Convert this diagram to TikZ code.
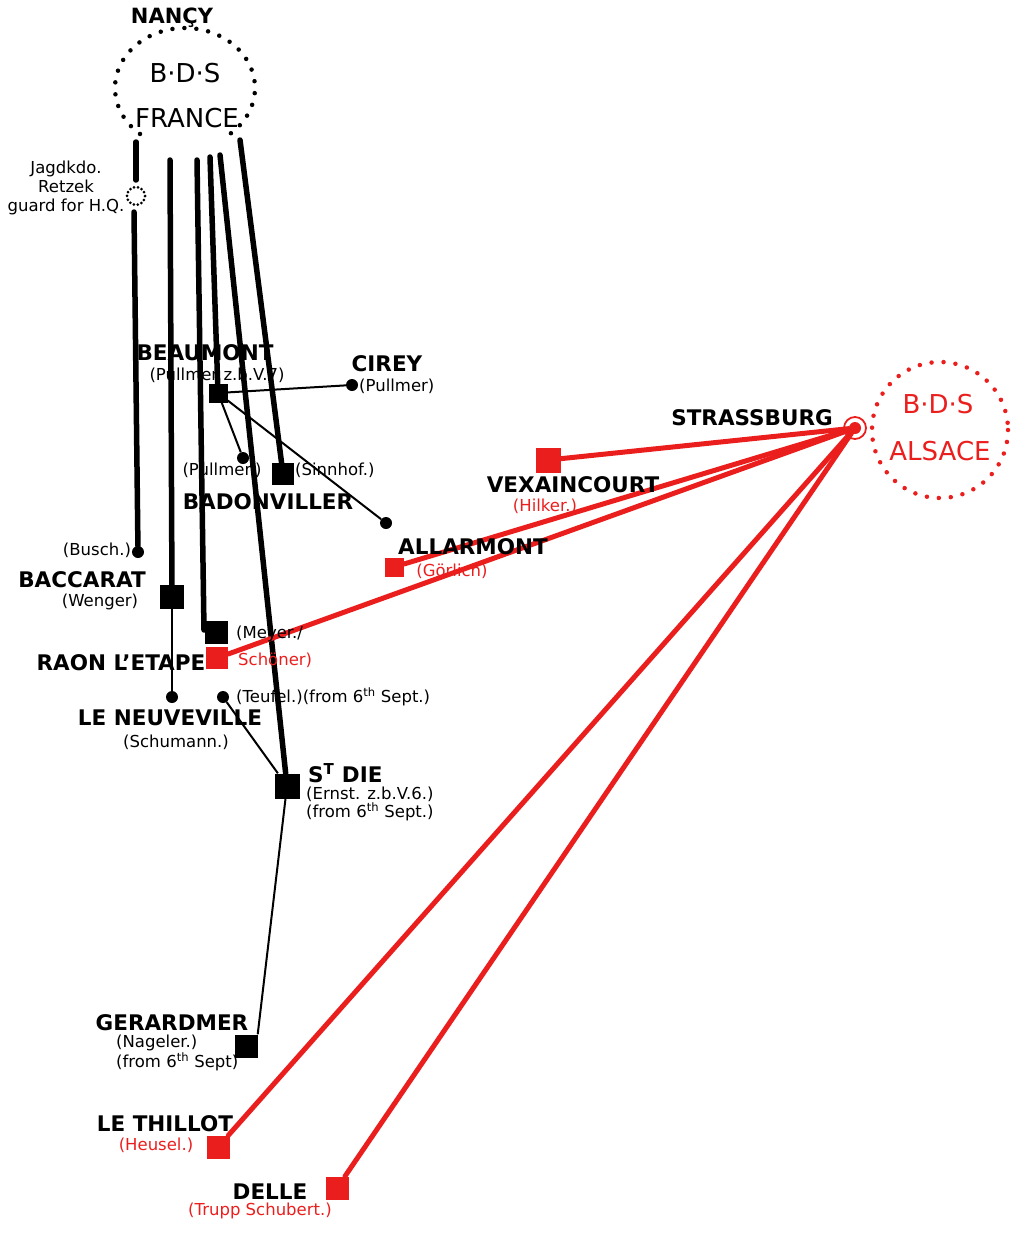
\documentclass[tikz,border=0pt]{standalone}
\usepackage{fontspec}
\setmainfont{DejaVu Sans}
\definecolor{rd}{RGB}{235,30,30}
\tikzset{
  place/.style={font=\fontsize{21.5}{22}\selectfont\bfseries, inner sep=0pt},
  who/.style={font=\fontsize{16.5}{18}\selectfont, inner sep=0pt},
  sqb/.style={fill=black, draw=none, minimum size=#1, inner sep=0pt},
  sqr/.style={fill=rd, draw=none, minimum size=#1, inner sep=0pt},
  dotb/.style={circle, fill=black, minimum size=12pt, inner sep=0pt},
  thick line/.style={line width=5.5pt, line cap=round},
  thin line/.style={line width=2pt},
  red line/.style={draw=rd, line width=5pt, line cap=round},
  dots/.style={line width=4.5pt, line cap=round, dash pattern=on 0pt off 12pt},
  big/.style={font=\fontsize{26}{26}\selectfont, inner sep=0pt},
}
\begin{document}
\begin{tikzpicture}[x=1pt,y=-1pt]
\useasboundingbox (0,0) rectangle (1011,1236);
% BDS France
\draw[dots] (185,88) ++(130:70 and 60) arc[start angle=130, end angle=410, x radius=70, y radius=60];
\node[font=\fontsize{21}{21}\selectfont\bfseries, inner sep=0pt] (nancy) at (172,18) {NANÇY};
\node[big] (bds1) at (185,73) {B·D·S};
\node[big] (france) at (187,118) {FRANCE};
% BDS Alsace
\draw[dots, draw=rd] (940,430) circle[radius=68];
\node[big, text=rd] (bds2) at (938,404) {B·D·S};
\node[big, text=rd] (alsace) at (940,451) {ALSACE};
% start points
\coordinate (f1) at (136,142);
\coordinate (f2) at (170,160);
\coordinate (f3) at (197,160);
\coordinate (f4) at (210,157);
\coordinate (f5) at (220,155);
\coordinate (f6) at (240,140);
% nodes
\node[circle, draw, dash pattern=on 0pt off 4pt, line width=3pt, line cap=round, minimum size=18pt, inner sep=0pt] (ret) at (136,196) {};
\node[dotb] (busch) at (138,552) {};
\node[sqb=24pt] (bacc) at (172,597) {};
\node[dotb] (neuv) at (172,697) {};
\node[sqb=23pt] (raonb) at (216,632) {};
\node[sqr=22pt] (raonr) at (217,658) {};
\node[sqb=19pt] (beau) at (218,393) {};
\node[dotb] (cirey) at (352,385) {};
\node[dotb] (pull) at (243,458) {};
\node[dotb] (dia) at (386,523) {};
\node[sqb=22pt] (badon) at (283,474) {};
\node[dotb] (teuf) at (223,697) {};
\node[sqb=25pt] (stdie) at (287,786) {};
\node[sqb=23pt] (gerard) at (246,1046) {};
\node[sqr=25pt] (vex) at (548,460) {};
\node[sqr=19pt] (allar) at (394,567) {};
\node[sqr=23pt] (thil) at (218,1147) {};
\node[sqr=23pt] (delle) at (337,1188) {};
\node[circle, fill=rd, minimum size=12pt, inner sep=0pt] (stras) at (855,428) {};
\draw[rd, line width=1.8pt] (stras) circle[radius=11];
% black thick lines
\draw[thick line] (f1) -- (136,180);
\draw[thick line] (134,212) -- (busch);
\draw[thick line] (f2) -- (bacc);
\draw[thick line] (f3) -- (204,630);
\draw[thick line] (f4) -- (beau);
\draw[thick line] (f5) -- (stdie);
\draw[thick line] (f6) -- (badon);
% thin lines
\draw[thin line] (bacc) -- (neuv);
\draw[thin line] (beau) -- (cirey);
\draw[thin line] (beau) -- (pull);
\draw[thin line] (beau) -- (dia);
\draw[thin line] (teuf) -- (stdie);
\draw[thin line] (stdie) -- (gerard.north east);
% red lines
\draw[red line] (stras) -- (vex);
\draw[red line] (stras) -- (allar);
\draw[red line] (stras) -- (raonr);
\draw[red line] (stras) -- (thil);
\draw[red line] (stras) -- (delle);
% labels
\node[who, align=center, font=\fontsize{16.5}{19}\selectfont] (jagd) at (66,188) {Jagdkdo.\\Retzek\\guard for H.Q.};
\node[place] (lbeau) at (205,353) {BEAUMONT};
\node[who] (lbeau2) at (217,375) {(Pullmer z.b.V.7)};
\node[place] (lcirey) at (387,364) {CIREY};
\node[who, anchor=west] (lcirey2) at (359,386) {(Pullmer)};
\node[who] (lpull) at (222,470) {(Pullmer.)};
\node[who, anchor=west] (lsinn) at (295,470) {(Sinnhof.)};
\node[place] (lbadon) at (268,502) {BADONVILLER};
\node[who] (lbusch) at (97,550) {(Busch.)};
\node[place] (lbacc) at (82,580) {BACCARAT};
\node[who] (lbacc2) at (100,602) {(Wenger)};
\node[who, anchor=west] (lmey) at (236,634) {(Meyer./};
\node[who, anchor=west, text=rd] (lsch) at (238,660) {Schöner)};
\node[place] (lraon) at (121,663) {RAON L'ETAPE};
\node[who, anchor=west] (lteuf) at (236,697) {(Teufel.)(from 6\textsuperscript{th} Sept.)};
\node[place] (lneuv) at (170,718) {LE NEUVEVILLE};
\node[who] (lneuv2) at (176,742) {(Schumann.)};
\node[place, anchor=west] (lstdie) at (308,773) {S\textsuperscript{T} DIE};
\node[who, anchor=west, align=left] (lstdie2) at (306,804) {(Ernst. z.b.V.6.)\\(from 6\textsuperscript{th} Sept.)};
\node[place] (lgerard) at (172,1023) {GERARDMER};
\node[who, align=left, anchor=west] (lgerard2) at (116,1053) {(Nageler.)\\(from 6\textsuperscript{th} Sept)};
\node[place] (lthil) at (165,1124) {LE THILLOT};
\node[who, text=rd] (lthil2) at (156,1145) {(Heusel.)};
\node[place] (ldelle) at (270,1192) {DELLE};
\node[who, text=rd] (ldelle2) at (260,1211) {(Trupp Schubert.)};
\node[place] (lstras) at (752,418) {STRASSBURG};
\node[place] (lvex) at (573,485) {VEXAINCOURT};
\node[who, text=rd] (lvex2) at (545,506) {(Hilker.)};
\node[place] (lallar) at (473,547) {ALLARMONT};
\node[who, text=rd] (lallar2) at (452,571) {(Görlich)};
\end{tikzpicture}
\end{document}
